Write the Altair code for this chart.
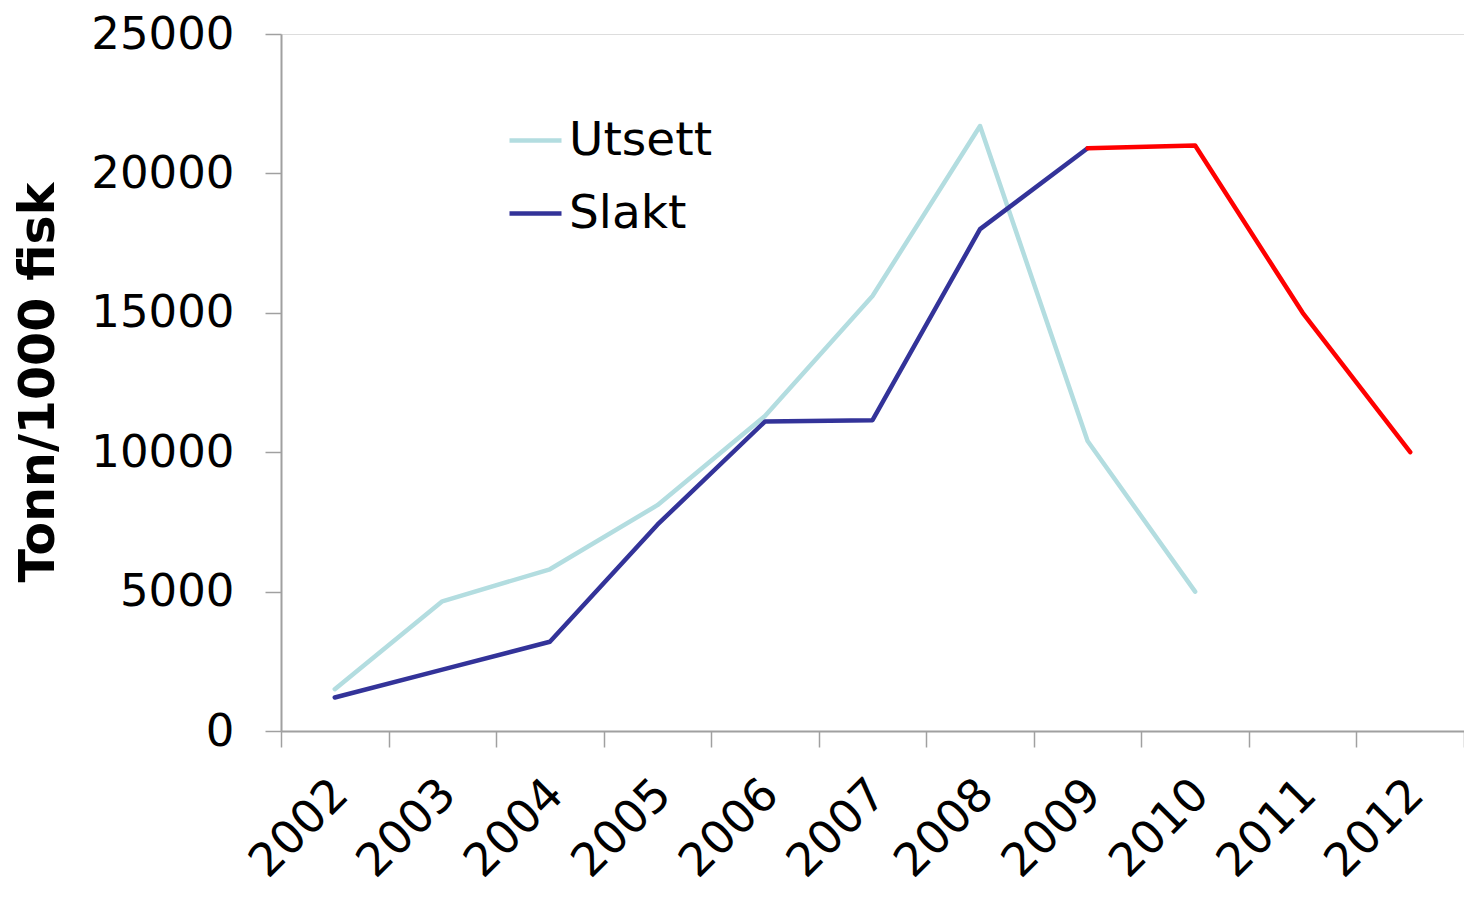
import altair as alt
import pandas as pd

years = [2002, 2003, 2004, 2005, 2006, 2007, 2008, 2009, 2010, 2011, 2012]
utsett = [1500, 4650, 5800, 8100, 11300, 15600, 21700, 10400, 5000]
slakt = [1200, 2200, 3200, 7400, 11100, 11150, 18000, 20900]
prognose_years = [2009, 2010, 2011, 2012]
prognose = [20900, 21000, 15000, 10000]
series_names = ["Utsett", "Slakt"]
series_colors = ["#B3DDE0", "#333399"]

rows = []
for y, v in zip(years, utsett):
    rows.append({"year": y, "value": v, "serie": "Utsett"})
for y, v in zip(years, slakt):
    rows.append({"year": y, "value": v, "serie": "Slakt"})
df = pd.DataFrame(rows)
dfp = pd.DataFrame({"year": prognose_years, "value": prognose})

tick_vals = []
for y in years:
    tick_vals.append(y - 0.5)
    tick_vals.append(y)
tick_vals.append(years[-1] + 0.5)

FONT = "DejaVu Sans"
AXIS_GRAY = "#A0A0A0"

x_enc = alt.X(
    "year:Q",
    scale=alt.Scale(domain=[years[0] - 0.5, years[-1] + 0.5], nice=False, zero=False),
    axis=alt.Axis(
        title=None,
        values=tick_vals,
        labelExpr="datum.value % 1 === 0 ? toString(datum.value) : ''",
        tickOpacity={"condition": {"test": "datum.value % 1 === 0", "value": 0}, "value": 1},
        labelAngle=-45,
        labelAlign="right",
        labelBaseline="top",
        labelFontSize=46,
        labelFont=FONT,
        labelColor="black",
        labelPadding=24,
        labelOffset=-10,
        labelOverlap=False,
        labelFlush=False,
        tickSize=16,
        tickColor=AXIS_GRAY,
        tickWidth=1.5,
        domainColor=AXIS_GRAY,
        domainWidth=2,
        grid=False,
    ),
)

y_enc = alt.Y(
    "value:Q",
    scale=alt.Scale(domain=[0, 25000], nice=False),
    axis=alt.Axis(
        title="Tonn/1000 fisk",
        values=[0, 5000, 10000, 15000, 20000, 25000],
        format="d",
        labelFontSize=45,
        labelFont=FONT,
        labelColor="black",
        labelPadding=31,
        tickSize=16,
        tickColor=AXIS_GRAY,
        tickWidth=1.5,
        domainColor=AXIS_GRAY,
        domainWidth=2,
        grid=False,
        titleFont=FONT,
        titleFontSize=49,
        titleFontWeight="bold",
        titleColor="black",
        titleAngle=-90,
        titleAlign="center",
        titleBaseline="middle",
        titleX=-243,
        titleY=348,
    ),
)

lines = alt.Chart(df).mark_line(strokeWidth=4.5, strokeCap="round", strokeJoin="round").encode(
    x=x_enc,
    y=y_enc,
    color=alt.Color(
        "serie:N",
        scale=alt.Scale(domain=series_names, range=series_colors),
        legend=alt.Legend(
            title=None,
            orient="none",
            legendX=226,
            legendY=78,
            symbolType="stroke",
            symbolSize=2704,
            symbolStrokeWidth=4.5,
            labelFontSize=47,
            labelFont=FONT,
            labelColor="black",
            labelOffset=5,
            rowPadding=21,
        ),
    ),
    detail="serie:N",
)

red = alt.Chart(dfp).mark_line(strokeWidth=4.5, strokeCap="round", strokeJoin="round", color="#FF0000").encode(
    x="year:Q",
    y="value:Q",
)

chart = (
    alt.layer(lines, red)
    .properties(
        width=1183,
        height=697,
        autosize=alt.AutoSizeParams(type="none"),
        padding={"left": 273, "top": 26, "right": 0, "bottom": 158},
    )
    .configure_view(stroke=None)
    .configure(background="white")
)

chart.save("out.html", embed_options={"renderer": "svg", "actions": False})
